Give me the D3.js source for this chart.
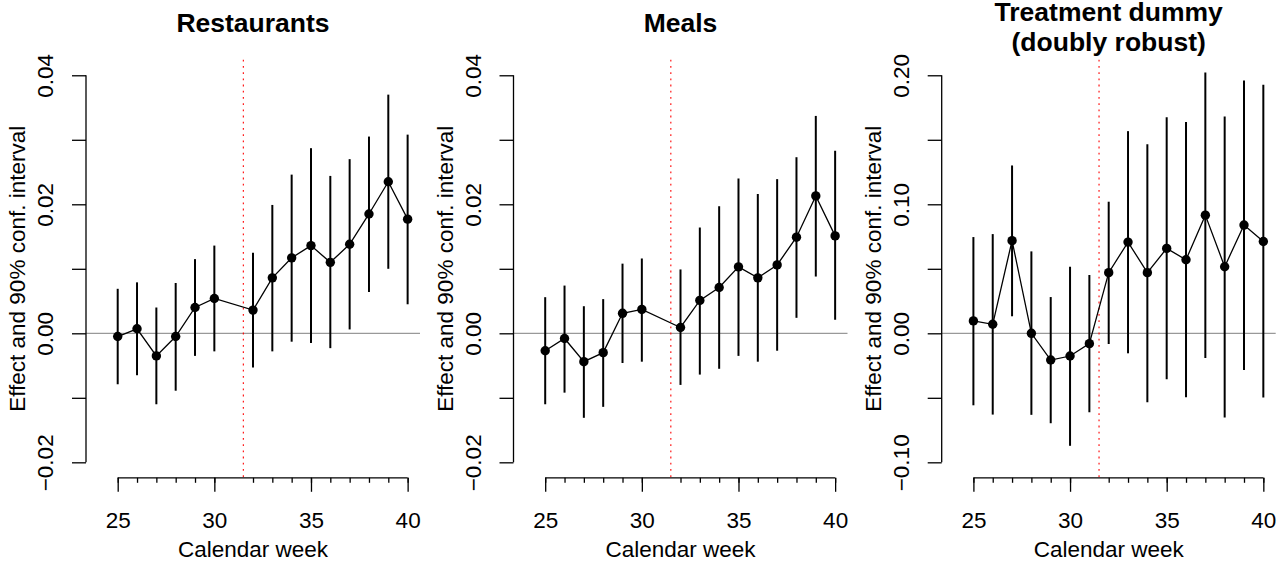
<!DOCTYPE html>
<html>
<head>
<meta charset="utf-8">
<script src="https://cdn.jsdelivr.net/npm/d3@7"></script>
<style>
  html, body { margin: 0; padding: 0; background: #fff; }
  svg { display: block; font-family: "Liberation Sans", Arial, Helvetica, sans-serif; }
</style>
</head>
<body>
<svg id="chart" width="1288" height="562"></svg>
<script>
// Calendar weeks (week 31 is not estimated for restaurants and meals)
const weeks = [25, 26, 27, 28, 29, 30, 32, 33, 34, 35, 36, 37, 38, 39, 40];
const weeksDR = [25, 26, 27, 28, 29, 30, 31, 32, 33, 34, 35, 36, 37, 38, 39, 40];

// Restaurants: point estimate and 90% interval bounds
const restEst = [-0.0005, 0.0007, -0.0035, -0.0005, 0.0040, 0.0054, 0.0036, 0.0086, 0.0117, 0.0136, 0.0110, 0.0138, 0.0185, 0.0235, 0.0177];
const restLo  = [-0.0079, -0.0065, -0.0110, -0.0089, -0.0035, -0.0028, -0.0053, -0.0028, -0.0013, -0.0015, -0.0023, 0.0006, 0.0064, 0.0100, 0.0045];
const restHi  = [0.0069, 0.0079, 0.0040, 0.0078, 0.0115, 0.0136, 0.0125, 0.0199, 0.0246, 0.0287, 0.0244, 0.0270, 0.0305, 0.0370, 0.0308];

// Meals
const mealsEst = [-0.0027, -0.0008, -0.0044, -0.0030, 0.0031, 0.0037, 0.0009, 0.0051, 0.0071, 0.0103, 0.0086, 0.0106, 0.0149, 0.0213, 0.0151];
const mealsLo  = [-0.0110, -0.0092, -0.0131, -0.0114, -0.0046, -0.0044, -0.0080, -0.0064, -0.0055, -0.0035, -0.0044, -0.0027, 0.0024, 0.0088, 0.0021];
const mealsHi  = [0.0056, 0.0074, 0.0042, 0.0053, 0.0108, 0.0116, 0.0099, 0.0164, 0.0197, 0.0240, 0.0216, 0.0239, 0.0273, 0.0337, 0.0283];

// Treatment dummy (doubly robust)
const drEst = [0.0096, 0.0070, 0.0718, 0.0000, -0.0207, -0.0176, -0.0080, 0.0470, 0.0707, 0.0470, 0.0658, 0.0570, 0.0916, 0.0516, 0.0839, 0.0712];
const drLo  = [-0.0558, -0.0630, 0.0132, -0.0632, -0.0697, -0.0872, -0.0612, -0.0083, -0.0155, -0.0534, -0.0356, -0.0496, -0.0191, -0.0653, -0.0284, -0.0498];
const drHi  = [0.0746, 0.0769, 0.1301, 0.0635, 0.0281, 0.0516, 0.0452, 0.1020, 0.1567, 0.1466, 0.1675, 0.1637, 0.2021, 0.1680, 0.1959, 0.1926];

// Axis ticks
const xMajor = [25, 30, 35, 40];
const xMinor = weeks;
const yTicksShare = [-0.02, -0.01, 0.00, 0.01, 0.02, 0.03, 0.04];
const yLabelsShare = [-0.02, 0.00, 0.02, 0.04];
const yTicksDR = [-0.10, -0.05, 0.00, 0.05, 0.10, 0.15, 0.20];
const yLabelsDR = [-0.10, 0.00, 0.10, 0.20];

const treatmentStart = 31.5;
const titles = [["Restaurants"], ["Meals"], ["Treatment dummy", "(doubly robust)"]];
const xLabel = "Calendar week";
const yLabel = "Effect and 90% conf. interval";

const panels = [
  { left: 86,    weeks: weeks,   est: restEst,  lo: restLo,  hi: restHi,  ylim: [-0.02, 0.04], ticks: yTicksShare, labels: yLabelsShare, title: titles[0] },
  { left: 513.5, weeks: weeks,   est: mealsEst, lo: mealsLo, hi: mealsHi, ylim: [-0.02, 0.04], ticks: yTicksShare, labels: yLabelsShare, title: titles[1] },
  { left: 941.7, weeks: weeksDR, est: drEst,    lo: drLo,    hi: drHi,    ylim: [-0.10, 0.20], ticks: yTicksDR,    labels: yLabelsDR,    title: titles[2] }
];

const plotW = 334, plotTop = 59.8, plotBottom = 477.8;
const baseFont = 22.5, titleFont = 26.5;
const svg = d3.select("#chart");

// extend a range by 4% on each side, like R's default axis style
function pad(lim) { const e = (lim[1] - lim[0]) * 0.04; return [lim[0] - e, lim[1] + e]; }

panels.forEach(p => {
  const x = d3.scaleLinear().domain(pad([24, 40])).range([p.left, p.left + plotW]);
  const y = d3.scaleLinear().domain(pad(p.ylim)).range([plotBottom, plotTop]);
  const g = svg.append("g");

  // reference lines
  g.append("line")
    .attr("x1", x.range()[0]).attr("x2", x.range()[1])
    .attr("y1", y(0)).attr("y2", y(0))
    .attr("stroke", "#808080").attr("stroke-width", 1);
  g.append("line")
    .attr("x1", x(treatmentStart)).attr("x2", x(treatmentStart))
    .attr("y1", plotTop).attr("y2", plotBottom)
    .attr("stroke", "#ff0000").attr("stroke-width", 1.1)
    .attr("stroke-dasharray", "1.8,4.4");

  const rows = p.weeks.map((w, i) => ({ w, est: p.est[i], lo: p.lo[i], hi: p.hi[i] }));

  // confidence intervals
  g.selectAll(".ci").data(rows).join("line")
    .attr("x1", d => x(d.w)).attr("x2", d => x(d.w))
    .attr("y1", d => y(d.lo)).attr("y2", d => y(d.hi))
    .attr("stroke", "#000").attr("stroke-width", 2);

  // estimates
  g.append("path").datum(rows)
    .attr("fill", "none").attr("stroke", "#000").attr("stroke-width", 1.3)
    .attr("d", d3.line().x(d => x(d.w)).y(d => y(d.est)));
  g.selectAll(".pt").data(rows).join("circle")
    .attr("cx", d => x(d.w)).attr("cy", d => y(d.est)).attr("r", 4.7)
    .attr("fill", "#000");

  // y axis
  const fmt = d3.format(".2f");
  const ya = g.append("g").attr("transform", `translate(${p.left},0)`)
    .call(d3.axisLeft(y).tickValues(p.ticks).tickSize(14).tickSizeOuter(0)
      .tickFormat(d => p.labels.some(v => Math.abs(v - d) < 1e-9) ? fmt(d).replace("-", "\u2212") : ""));
  ya.select(".domain").remove();
  ya.append("line").attr("y1", y(p.ticks[0])).attr("y2", y(p.ticks[p.ticks.length - 1]))
    .attr("stroke", "#000").attr("stroke-width", 1.3);
  ya.selectAll(".tick line").attr("stroke", "#000").attr("stroke-width", 1.3);
  ya.selectAll(".tick text")
    .attr("transform", "rotate(-90)")
    .attr("x", 0).attr("y", -33).attr("dy", 0)
    .attr("text-anchor", "middle")
    .attr("fill", "#000").style("font-size", baseFont + "px").style("font-family", "Liberation Sans, Arial, sans-serif");

  // x axis: weekly minor ticks, labelled major ticks
  const xa = g.append("g").attr("transform", `translate(0,${plotBottom})`);
  const xMin = xa.append("g").call(d3.axisBottom(x).tickValues(xMinor).tickSize(5).tickSizeOuter(0).tickFormat(""));
  const xMaj = xa.append("g").call(d3.axisBottom(x).tickValues(xMajor).tickSize(14).tickSizeOuter(0).tickFormat(d3.format("d")));
  xMin.select(".domain").remove();
  xMaj.select(".domain").remove();
  xa.append("line").attr("x1", x(xMajor[0])).attr("x2", x(xMajor[xMajor.length - 1]))
    .attr("stroke", "#000").attr("stroke-width", 1.3);
  xa.selectAll(".tick line").attr("stroke", "#000").attr("stroke-width", 1.3);
  xMaj.selectAll(".tick text")
    .attr("y", 50.6).attr("dy", 0)
    .attr("fill", "#000").style("font-size", baseFont + "px").style("font-family", "Liberation Sans, Arial, sans-serif");

  // axis titles
  g.append("text")
    .attr("x", (x.range()[0] + x.range()[1]) / 2).attr("y", 556.7)
    .attr("text-anchor", "middle").style("font-size", baseFont + "px")
    .text(xLabel);
  g.append("text")
    .attr("transform", `translate(${p.left - 61},${(plotTop + plotBottom) / 2}) rotate(-90)`)
    .attr("text-anchor", "middle").style("font-size", baseFont + "px")
    .text(yLabel);

  // panel title
  const cx = (x.range()[0] + x.range()[1]) / 2;
  const lineGap = 30.5;
  const firstBase = p.title.length === 1 ? 32.3 : 20.5;
  p.title.forEach((t, i) => {
    g.append("text")
      .attr("x", cx).attr("y", firstBase + i * lineGap)
      .attr("text-anchor", "middle")
      .style("font-size", titleFont + "px").style("font-weight", "bold")
      .text(t);
  });
});
</script>
</body>
</html>
